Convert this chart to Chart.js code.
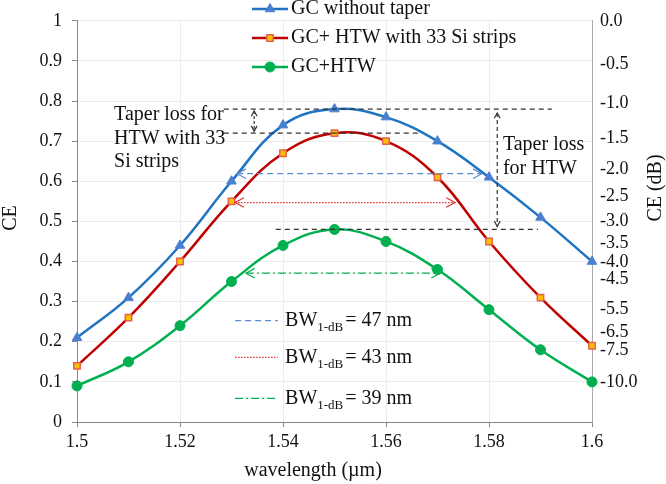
<!DOCTYPE html>
<html>
<head>
<meta charset="utf-8">
<script src="https://cdn.jsdelivr.net/npm/chart.js@4.4.1/dist/chart.umd.min.js"></script>
<style>
  html, body { margin: 0; padding: 0; background: #fff; }
  #wrap { width: 666px; height: 484px; }
</style>
</head>
<body>
<div id="wrap"><canvas id="ceChart"></canvas></div>
<script>
/* ================= DATA ================= */
const wavelength = [1.50, 1.51, 1.52, 1.53, 1.54, 1.55, 1.56, 1.57, 1.58, 1.59, 1.60];
const ceNoTaper  = [0.21, 0.31, 0.44, 0.60, 0.74, 0.78, 0.76, 0.70, 0.61, 0.51, 0.40];
const ceHtw33    = [0.14, 0.26, 0.40, 0.55, 0.67, 0.72, 0.70, 0.61, 0.45, 0.31, 0.19];
const ceHtw      = [0.09, 0.15, 0.24, 0.35, 0.44, 0.48, 0.45, 0.38, 0.28, 0.18, 0.10];
const seriesNames = ["GC without taper", "GC+ HTW with 33 Si strips", "GC+HTW"];
const dbTicks = [0, -0.5, -1, -1.5, -2, -2.5, -3, -3.5, -4, -4.5, -5.5, -6.5, -7.5, -10];
const bwValues = ["47 nm", "43 nm", "39 nm"];

const FONT = "'Liberation Serif', 'Times New Roman', serif";

/* ================= HELPERS ================= */
function arrow(ctx, x1, y1, x2, y2, color, dash, head) {
    ctx.strokeStyle = color;
    ctx.lineWidth = 1.2;
    ctx.setLineDash(dash);
    ctx.beginPath();
    ctx.moveTo(x1, y1);
    ctx.lineTo(x2, y2);
    ctx.stroke();
    ctx.setLineDash([]);
    const a = Math.atan2(y2 - y1, x2 - x1);
    [[x2, y2, a], [x1, y1, a + Math.PI]].forEach(([hx, hy, ang]) => {
        ctx.beginPath();
        ctx.moveTo(hx - head * Math.cos(ang - 0.5), hy - head * Math.sin(ang - 0.5));
        ctx.lineTo(hx, hy);
        ctx.lineTo(hx - head * Math.cos(ang + 0.5), hy - head * Math.sin(ang + 0.5));
        ctx.stroke();
    });
}

function hline(ctx, x1, x2, yy) {
    ctx.strokeStyle = "#333";
    ctx.lineWidth = 1.2;
    ctx.setLineDash([5, 4]);
    ctx.beginPath();
    ctx.moveTo(x1, yy);
    ctx.lineTo(x2, yy);
    ctx.stroke();
    ctx.setLineDash([]);
}

/* ================= OVERLAY ================= */
const overlay = {
    id: "overlay",
    afterDatasetsDraw(chart) {
        const { ctx, scales: { x, y } } = chart;
        const px = v => x.getPixelForValue(v);
        const py = v => y.getPixelForValue(v);
        ctx.save();

        // peak reference lines
        const p1 = Math.max(...ceNoTaper), p2 = Math.max(...ceHtw33), p3 = Math.max(...ceHtw);
        hline(ctx, px(1.5285), px(1.5922), py(p1));
        hline(ctx, px(1.5285), px(1.5666), py(p2));
        hline(ctx, px(1.5386), px(1.5895), py(p3));

        // taper loss arrows
        arrow(ctx, px(1.5344), py(p1) + 2, px(1.5344), py(p2) - 2, "#333", [3, 2], 6);
        arrow(ctx, px(1.5816), py(p1) + 4, px(1.5816), py(p3) - 3, "#333", [4, 3], 6);

        // bandwidth arrows
        arrow(ctx, px(1.5311), py(0.619), px(1.5786), py(0.619), "#5b8bd0", [6, 4], 10);
        arrow(ctx, px(1.5307), py(0.547), px(1.5734), py(0.547), "#e03030", [1.5, 1.5], 10);
        arrow(ctx, px(1.5328), py(0.371), px(1.5705), py(0.371), "#00b050", [8, 3, 2, 3], 10);

        // annotation text
        ctx.fillStyle = "#111";
        ctx.font = "20px " + FONT;
        ctx.textAlign = "left";
        ctx.textBaseline = "middle";
        ["Taper loss for", "HTW with 33", "Si strips"].forEach((t, i) => {
            ctx.fillText(t, px(1.5072), py(0.765) + i * 23.5);
        });
        ["Taper loss", "for HTW"].forEach((t, i) => {
            ctx.fillText(t, px(1.5827), py(0.69) + i * 24);
        });

        // BW legend
        const bwStyles = [
            ["#5b8bd0", [6, 4]],
            ["#e03030", [1.5, 1.5]],
            ["#00b050", [8, 3, 2, 3]]
        ];
        const bwRows = [0.2525, 0.161, 0.059];
        bwValues.forEach((v, i) => {
            const yy = py(bwRows[i]);
            ctx.strokeStyle = bwStyles[i][0];
            ctx.lineWidth = 1.2;
            ctx.setLineDash(bwStyles[i][1]);
            ctx.beginPath();
            ctx.moveTo(px(1.5307), yy);
            ctx.lineTo(px(1.5390), yy);
            ctx.stroke();
            ctx.setLineDash([]);
            let tx = px(1.5404);
            ctx.fillStyle = "#111";
            ctx.font = "20px " + FONT;
            ctx.fillText("BW", tx, yy);
            tx += ctx.measureText("BW").width;
            ctx.font = "13px " + FONT;
            ctx.fillText("1-dB", tx, yy + 7);
            tx += ctx.measureText("1-dB").width + 2;
            ctx.font = "20px " + FONT;
            ctx.fillText("= " + v, tx, yy);
        });

        // series legend
        chart.data.datasets.forEach((ds, i) => {
            const yy = 9 + i * 29;
            ctx.strokeStyle = ds.borderColor;
            ctx.lineWidth = 2.5;
            ctx.beginPath();
            ctx.moveTo(252, yy);
            ctx.lineTo(288, yy);
            ctx.stroke();
            ctx.fillStyle = ds.pointBackgroundColor;
            ctx.strokeStyle = ds.pointBorderColor;
            ctx.lineWidth = ds.pointBorderWidth;
            Chart.helpers.drawPoint(ctx, { pointStyle: ds.pointStyle, radius: ds.pointRadius, rotation: 0, borderWidth: ds.pointBorderWidth }, 270, yy);
            ctx.fillStyle = "#111";
            ctx.font = "20px " + FONT;
            ctx.fillText(ds.label, 291, yy);
        });

        // axis titles
        ctx.fillStyle = "#111";
        ctx.font = "20px " + FONT;
        ctx.textAlign = "center";
        ctx.fillText("wavelength (\u00b5m)", 313, 471);
        ctx.save();
        ctx.translate(11, 218);
        ctx.rotate(-Math.PI / 2);
        ctx.fillText("CE", 0, 0);
        ctx.restore();
        ctx.save();
        ctx.translate(656, 188);
        ctx.rotate(-Math.PI / 2);
        ctx.fillText("CE (dB)", 0, 0);
        ctx.restore();

        ctx.restore();
    }
};

/* ================= CHART ================= */
const toXY = vals => vals.map((v, i) => ({ x: wavelength[i], y: v }));

new Chart(document.getElementById("ceChart"), {
    type: "line",
    data: {
        datasets: [
            {
                label: seriesNames[0],
                data: toXY(ceNoTaper),
                borderColor: "#1f73c2",
                borderWidth: 2.5,
                pointStyle: "triangle",
                pointRadius: 5.5,
                pointBackgroundColor: "#4a7fd0",
                pointBorderColor: "#4a7fd0",
                pointBorderWidth: 1,
                tension: 0.4
            },
            {
                label: seriesNames[1],
                data: toXY(ceHtw33),
                borderColor: "#c00000",
                borderWidth: 2.5,
                pointStyle: "rect",
                pointRadius: 4.5,
                pointBackgroundColor: "#ffc000",
                pointBorderColor: "#e8604c",
                pointBorderWidth: 1.5,
                tension: 0.4
            },
            {
                label: seriesNames[2],
                data: toXY(ceHtw),
                borderColor: "#00b050",
                borderWidth: 2.5,
                pointStyle: "circle",
                pointRadius: 5,
                pointBackgroundColor: "#00b050",
                pointBorderColor: "#00b050",
                pointBorderWidth: 1,
                tension: 0.4
            }
        ]
    },
    options: {
        responsive: true,
        maintainAspectRatio: false,
        animation: false,
        clip: false,
        layout: { padding: { top: 18, left: 0, right: 0, bottom: 0 } },
        plugins: { legend: { display: false }, tooltip: { enabled: false } },
        scales: {
            x: {
                type: "linear",
                min: 1.5,
                max: 1.6,
                afterFit: s => { s.height = 62; },
                afterBuildTicks: s => { s.ticks = wavelength.filter((w, i) => i % 2 === 0).map(v => ({ value: v })); },
                ticks: {
                    color: "#111",
                    font: { family: FONT, size: 18 },
                    padding: 4,
                    maxRotation: 0,
                    callback: v => String(+v.toFixed(2))
                },
                grid: { color: "#ececec", tickColor: "#888", tickLength: 5 },
                border: { color: "#888" }
            },
            y: {
                position: "left",
                min: 0,
                max: 1,
                afterFit: s => { s.width = 77; },
                ticks: {
                    stepSize: 0.1,
                    color: "#111",
                    font: { family: FONT, size: 18 },
                    padding: 10,
                    callback: v => String(+v.toFixed(1))
                },
                grid: { color: "#ececec", tickColor: "#888", tickLength: 5 },
                border: { color: "#888" }
            },
            yDb: {
                position: "right",
                min: 0,
                max: 1,
                afterFit: s => { s.width = 74; },
                afterBuildTicks: s => { s.ticks = dbTicks.map(d => ({ value: Math.pow(10, d / 10) })); },
                ticks: {
                    autoSkip: false,
                    color: "#111",
                    font: { family: FONT, size: 18 },
                    padding: 0,
                    callback: (v, i) => dbTicks[i].toFixed(1)
                },
                grid: { display: false },
                border: { color: "#aaa" }
            }
        }
    },
    plugins: [overlay]
});
</script>
</body>
</html>
